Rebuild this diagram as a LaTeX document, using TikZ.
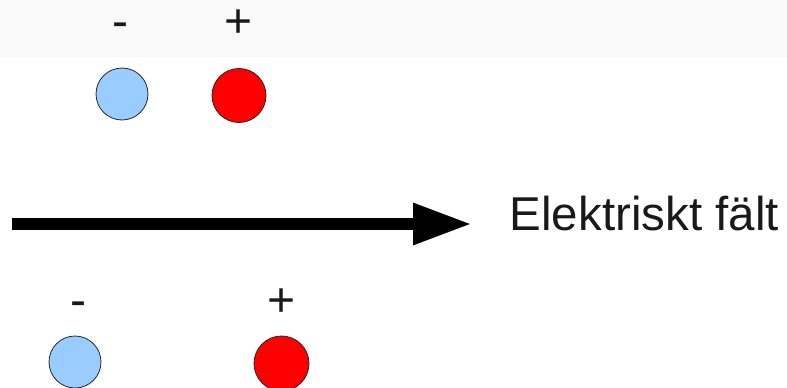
\documentclass[tikz,border=0pt]{standalone}
\usepackage{fontspec}
\setmainfont{Liberation Sans}
\usetikzlibrary{arrows.meta}
\definecolor{negblue}{HTML}{99CCFF}
\definecolor{posred}{HTML}{FF0000}
\definecolor{band}{HTML}{F9F9F9}
\begin{document}
\begin{tikzpicture}[x=1pt,y=-1pt,
  charge/.style={circle,draw=black!85,line width=0.8pt,inner sep=0pt},
  sign/.style={inner sep=0pt,anchor=base,font=\fontsize{48}{56}\selectfont,text=black!90},
  label/.style={inner sep=0pt,anchor=base west,font=\fontsize{47.5}{56}\selectfont,text=black!90}]
\useasboundingbox (0,0) rectangle (787,388);
\fill[band] (0,0) rectangle (787,57);
% top pair
\node[sign] (tm) at (120,37) {-};
\node[sign] (tp) at (239,37) {+};
\node[charge,fill=negblue,minimum size=52pt] (tb) at (122,94) {};
\node[charge,fill=posred,minimum size=54pt] (tr) at (239,95.5) {};
% arrow
\coordinate (as) at (12,224);
\coordinate (ae) at (472,224);
\draw[line width=12pt,-{Triangle[length=59pt,width=39pt]}] (as) -- (ae);
\node[label] (lab) at (509.5,230) {Elektriskt fält};
% bottom pair
\node[sign] (bm) at (78,316) {-};
\node[sign] (bp) at (281.5,316) {+};
\node[charge,fill=negblue,minimum size=52pt] (bb) at (75,362) {};
\node[charge,fill=posred,minimum size=55pt] (br) at (281.5,363.5) {};
\end{tikzpicture}
\end{document}
